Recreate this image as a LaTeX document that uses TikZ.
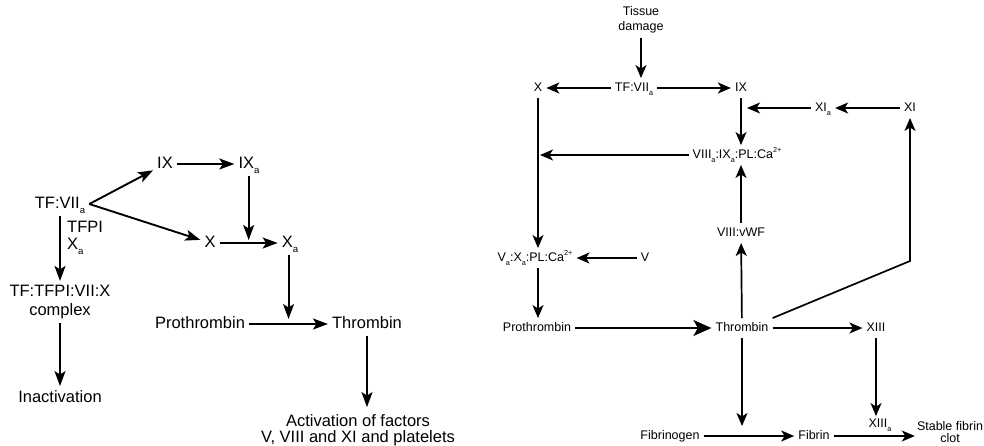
\documentclass[tikz,border=0pt]{standalone}
\usepackage{fontspec}
\usepackage{graphicx}
\setmainfont{Liberation Sans}
\usetikzlibrary{arrows.meta,calc}
\newcommand\sbs[1]{\raisebox{-0.6ex}{\scalebox{0.58}{#1}}}
\newcommand\sps[1]{\raisebox{0.85ex}{\scalebox{0.58}{#1}}}
\begin{document}
\begin{tikzpicture}[x=1pt,y=-1pt,
  L/.style={font=\fontsize{16.5}{19}\selectfont, inner sep=4pt, text height=12pt, text depth=3.5pt},
  Lm/.style={font=\fontsize{16.5}{19}\selectfont, inner sep=4pt, align=center},
  R/.style={font=\fontsize{12.5}{15}\selectfont, inner sep=4pt, text height=9pt, text depth=2.5pt},
  Rm/.style={font=\fontsize{12.5}{15}\selectfont, inner sep=4pt, align=center},
  arrL/.style={-{Stealth[length=15pt,width=11pt,inset=3.5pt]}, line width=1.9pt},
  arrR/.style={-{Stealth[length=13pt,width=11pt,inset=3.5pt]}, line width=1.7pt},
  arrB/.style={-{Stealth[length=18pt,width=16pt,inset=4.5pt]}, line width=1.7pt},
]
\useasboundingbox (0,0) rectangle (984,445);

% ---------------- left diagram ----------------
\node[L] (tf) at (60,204) {TF:VII\sbs{a}};
\node[L] (ix) at (165,164) {IX};
\node[L] (ixa) at (249,164) {IX\sbs{a}};
\node[L] (x) at (210,243) {X};
\node[L] (xa) at (290,243) {X\sbs{a}};
\node[L,anchor=west] (tfpi) at (63,228) {TFPI};
\node[L,anchor=west] (xal) at (63,245) {X\sbs{a}};
\node[Lm] (cplx) at (60,302) {TF:TFPI:VII:X\\complex};
\node[L] (inact) at (60,398) {Inactivation};
\node[L] (pro) at (200,324) {Prothrombin};
\node[L] (thr) at (367,324) {Thrombin};
\node[Lm,font=\fontsize{16.5}{16}\selectfont] (act) at (358,430) {Activation of factors\\V, VIII and XI and platelets};

\draw[arrL] (tf.east) -- (ix);
\draw[arrL] (tf.east) -- (x);
\draw[arrL] (ix) -- (ixa);
\draw[arrL] (x) -- (xa) coordinate[midway] (m1);
\draw[arrL,shorten >=3pt] (ixa.south -| m1) -- (m1);
\draw[arrL] (pro) -- (thr) coordinate[midway] (m2);
\draw[arrL,shorten >=5pt] (xa.south -| m2) -- (m2);
\draw[arrL,shorten >=3pt] (thr.south) -- (thr.south |- act.north);
\draw[arrL] (tf) -- (cplx);
\draw[arrL] (cplx) -- (inact);

% ---------------- right diagram ----------------
\node[Rm] (td) at (641,20) {Tissue\\damage};
\node[R] (tf2) at (634,88) {TF:VII\sbs{a}};
\node[R] (x2) at (538,88) {X};
\node[R] (ix2) at (741,88) {IX};
\node[R] (xia) at (823,108) {XI\sbs{a}};
\node[R] (xi) at (910,108) {XI};
\node[R] (c8) at (737,155) {VIII\sbs{a}:IX\sbs{a}:PL:Ca\sps{2+}};
\node[R] (vwf) at (741,233) {VIII:vWF};
\node[R] (c5) at (535,258) {V\sbs{a}:X\sbs{a}:PL:Ca\sps{2+}};
\node[R] (v) at (645,258) {V};
\node[R] (pro2) at (537,328) {Prothrombin};
\node[R] (thr2) at (742,328) {Thrombin};
\node[R] (xiii) at (876,328) {XIII};
\node[R] (fgn) at (670,436) {Fibrinogen};
\node[R] (fib) at (814,436) {Fibrin};
\node[R,inner sep=2pt] (xiiia) at (880,424) {XIII\sbs{a}};
\node[Rm,font=\fontsize{12.5}{11.5}\selectfont,inner sep=2pt] (stab) at (950,432) {Stable fibrin\\clot};
\coordinate (k) at (910,261);

\draw[arrR] (td.south) -- (td.south |- tf2.north);
\draw[arrR] (tf2) -- (x2);
\draw[arrR] (tf2) -- (ix2);
\draw[arrR] (ix2.south) -- (ix2.south |- c8.north);
\draw[arrR] (xi) -- (xia);
\draw[arrR,shorten >=6pt] (xia) -- (xia -| ix2.south);
\draw[arrR,shorten >=2pt] (c8) -- (c8 -| x2.south);
\draw[arrR] (x2.south) -- (x2.south |- c5.north);
\draw[arrR] (v) -- (c5);
\draw[arrR] (c5.south -| x2.south) -- (x2.south |- pro2.north);
\draw[arrB] (pro2) -- (thr2);
\draw[arrR] (thr2) -- (vwf);
\draw[arrR] (vwf.north) -- (vwf.north |- c8.south);
\draw[arrR] (thr2) -- (xiii);
\draw[arrR] (thr2.north east) -- (k) -- (xi);
\draw[arrR,shorten >=10pt] (thr2.south) -- (thr2.south |- fgn);
\draw[arrR] (fgn) -- (fib);
\draw[arrR] (xiii.south) -- (xiii.south |- xiiia.north);
\draw[arrR] (fib) -- (fib -| stab.west);
\end{tikzpicture}
\end{document}
